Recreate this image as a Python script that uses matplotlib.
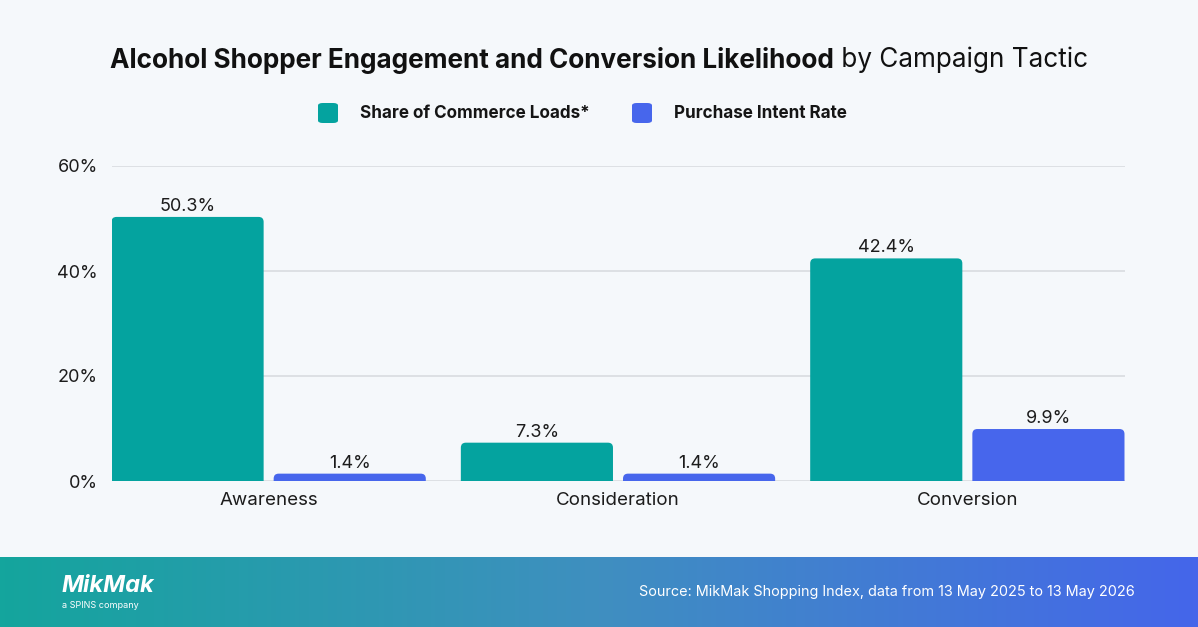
import numpy as np
import matplotlib
matplotlib.use("Agg")
import matplotlib.pyplot as plt
from matplotlib.patches import FancyBboxPatch
from matplotlib.colors import LinearSegmentedColormap

plt.rcParams['font.family'] = ['Inter', 'DejaVu Sans']

# data
tactics = ['Awareness', 'Consideration', 'Conversion']
share_loads = [50.3, 7.3, 42.4]
intent_rate = [1.4, 1.4, 9.9]
series_names = ['Share of Commerce Loads*', 'Purchase Intent Rate']
yticks = [0, 20, 40, 60]

bg = '#f5f8fb'
teal = '#04a39f'
blue = '#4766ec'
dark = '#1c1c1c'

W, H = 1198, 627
fig = plt.figure(figsize=(W/100, H/100), dpi=100, facecolor=bg)
ax = fig.add_axes([112/W, 1-481/H, (1125-112)/W, (481-166)/H])
ax.set_facecolor(bg)

x = np.arange(len(tactics))
bw = 0.4355
gap = 0.0287
off = (bw + gap) / 2

ax.set_ylim(0, 60)
ax.set_xlim(-0.4484, 2.4513)

for yt in yticks:
    ax.axhline(yt, color='#d6d9dd', lw=1.1, zorder=0)

# rounded bars: extend below zero so only top corners show
px_x = (1125-112) / (2.4513+0.4484)
px_y = (481-166) / 60
r = 5
aspect = (r/px_y) / (r/px_x)
for vals, col, sgn in [(share_loads, teal, -1), (intent_rate, blue, 1)]:
    for xi, v in zip(x, vals):
        left = xi + sgn*off - bw/2
        p = FancyBboxPatch((left, -3), bw, v + 3,
                           boxstyle="round,pad=0,rounding_size=%f" % (r/px_x),
                           mutation_aspect=aspect, fc=col, ec='none', zorder=2)
        ax.add_patch(p)
        ax.text(xi + sgn*off, v + 0.4, '%.1f%%' % v, ha='center', va='bottom',
                fontsize=13, color=dark, zorder=3)

ax.set_yticks(yticks)
ax.set_yticklabels(['%d%%' % t for t in yticks], fontsize=13, color=dark)
ax.set_xticks(x)
ax.set_xticklabels(tactics, fontsize=13.5, color=dark)
ax.tick_params(length=0)
ax.tick_params(axis='y', pad=10)
ax.tick_params(axis='x', pad=8)
for s in ax.spines.values():
    s.set_visible(False)

# title in two weights
fig.canvas.draw()
rend = fig.canvas.get_renderer()
t1 = fig.text(0, 1-60/H, 'Alcohol Shopper Engagement and Conversion Likelihood',
              fontsize=18.8, fontweight='bold', color='#111111', va='center')
t2 = fig.text(0, 1-60/H, ' by Campaign Tactic', fontsize=18.8, color='#111111', va='center')
w1 = t1.get_window_extent(rend).width
w2 = t2.get_window_extent(rend).width
x0 = (W - w1 - w2) / 2
t1.set_x(x0/W)
t2.set_x((x0 + w1)/W)

# legend
for lx, col, name in [(318, teal, series_names[0]), (632, blue, series_names[1])]:
    sq = FancyBboxPatch((lx/W, 1-123/H), 20/W, 20/H,
                        boxstyle="round,pad=0,rounding_size=0.004",
                        transform=fig.transFigure, fc=col, ec='none')
    fig.patches.append(sq)
    fig.text((lx+42)/W, 1-113/H, name, fontsize=12.3, fontweight='bold',
             color='#151515', va='center')

# footer gradient
fax = fig.add_axes([0, 0, 1, 70/H])
cmap = LinearSegmentedColormap.from_list('foot', ['#14a59d', '#3f8fc0', '#4566ea'])
fax.imshow(np.linspace(0, 1, 256)[None, :], aspect='auto', cmap=cmap,
           extent=[0, 1, 0, 1])
fax.set_axis_off()
fig.text(62/W, 1-586/H, 'MikMak', fontsize=17, fontweight='bold', style='italic',
         color='white', va='center')
fig.text(62/W, 1-606/H, 'a SPINS company', fontsize=6.5, color='white', va='center')
fig.text(1135/W, 1-592/H, 'Source: MikMak Shopping Index, data from 13 May 2025 to 13 May 2026',
         fontsize=10.4, color='white', ha='right', va='center')

fig.savefig('out.png', dpi=100, facecolor=bg)
